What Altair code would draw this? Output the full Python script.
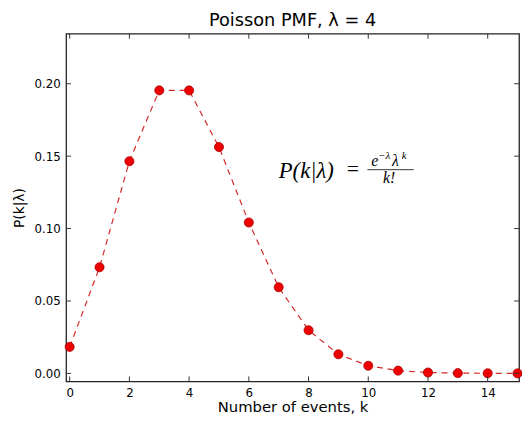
import altair as alt
import pandas as pd

# data
k_values = list(range(16))
pmf_values = [0.0183, 0.0733, 0.1465, 0.1954, 0.1954, 0.1563, 0.1042, 0.0595,
              0.0298, 0.0132, 0.0053, 0.0019, 0.0006, 0.0002, 0.0001, 0.0000]
x_ticks = [0, 2, 4, 6, 8, 10, 12, 14]
y_ticks = [0.00, 0.05, 0.10, 0.15, 0.20]

W, H = 460, 353
df = pd.DataFrame({"k": k_values, "p": pmf_values})
xt = pd.DataFrame({"t": x_ticks})
yt = pd.DataFrame({"t": y_ticks})

xscale = alt.Scale(domain=[-0.12, 15.05], nice=False, zero=False)
yscale = alt.Scale(domain=[-0.0055, 0.2345], nice=False, zero=False)

x_enc = alt.X("k:Q", scale=xscale,
              axis=alt.Axis(values=x_ticks, title="Number of events, k", format="d",
                            tickSize=0, domain=False, grid=False, labelPadding=6,
                            titlePadding=2, titleFontSize=15))
y_enc = alt.Y("p:Q", scale=yscale,
              axis=alt.Axis(values=y_ticks, title="P(k|λ)", format=".2f",
                            tickSize=0, domain=False, grid=False, labelPadding=6,
                            titlePadding=8))

line = alt.Chart(df).mark_line(color="#d62728", strokeDash=[6, 5], strokeWidth=1.2).encode(
    x=x_enc, y=y_enc)
points = alt.Chart(df).mark_point(filled=True, shape="circle", size=85, color="#ee0000",
                                  stroke="#aa0000", strokeWidth=0.8, opacity=1).encode(
    x=alt.X("k:Q", scale=xscale), y=alt.Y("p:Q", scale=yscale))

tick_col = "#333333"
xt_bot = alt.Chart(xt).mark_rule(color=tick_col, strokeWidth=1).encode(
    x=alt.X("t:Q", scale=xscale), y=alt.value(H), y2=alt.value(H - 5))
xt_top = alt.Chart(xt).mark_rule(color=tick_col, strokeWidth=1).encode(
    x=alt.X("t:Q", scale=xscale), y=alt.value(0), y2=alt.value(5))
yt_left = alt.Chart(yt).mark_rule(color=tick_col, strokeWidth=1).encode(
    y=alt.Y("t:Q", scale=yscale), x=alt.value(0), x2=alt.value(5))
yt_right = alt.Chart(yt).mark_rule(color=tick_col, strokeWidth=1).encode(
    y=alt.Y("t:Q", scale=yscale), x=alt.value(W), x2=alt.value(W - 5))


def txt(s, x, y, size, italic=True, align="left"):
    props = dict(font="Liberation Serif", fontSize=size, align=align,
                 baseline="alphabetic", color="black")
    if italic:
        props["fontStyle"] = "italic"
    return alt.Chart(pd.DataFrame({"s": [s]})).mark_text(**props).encode(
        text="s:N", x=alt.value(x), y=alt.value(y))


f1 = txt("P(k|λ)", 216, 146, 23)
f2 = txt("=", 285, 144, 22, italic=False)
n1 = txt("e", 310, 134, 16)
n2 = txt("−λ", 317, 127, 11)
n3 = txt("λ", 331, 134, 16)
n4 = txt("k", 341, 127, 11)
frac = alt.Chart(pd.DataFrame({"a": [0]})).mark_rule(color="black", strokeWidth=0.8).encode(
    x=alt.value(306), x2=alt.value(353), y=alt.value(138))
den = txt("k!", 328, 152, 16, align="center")

chart = alt.layer(line, points, xt_bot, xt_top, yt_left, yt_right,
                  f1, f2, n1, n2, n3, n4, frac, den).properties(
    width=W, height=H,
    background="white",
    title=alt.Title("Poisson PMF, λ = 4", fontSize=18, font="DejaVu Sans",
                    fontWeight="normal", color="black", offset=3),
    autosize="none",
    padding={"left": 59, "top": 23, "right": 3, "bottom": 33},
).configure_view(stroke="#222222", strokeWidth=1.3).configure_axis(
    labelFont="DejaVu Sans", labelFontSize=12, labelColor="black",
    titleFont="DejaVu Sans", titleFontSize=14, titleColor="black", titleFontWeight="normal"
)

chart.save("out.html", embed_options={"renderer": "svg", "actions": False})
